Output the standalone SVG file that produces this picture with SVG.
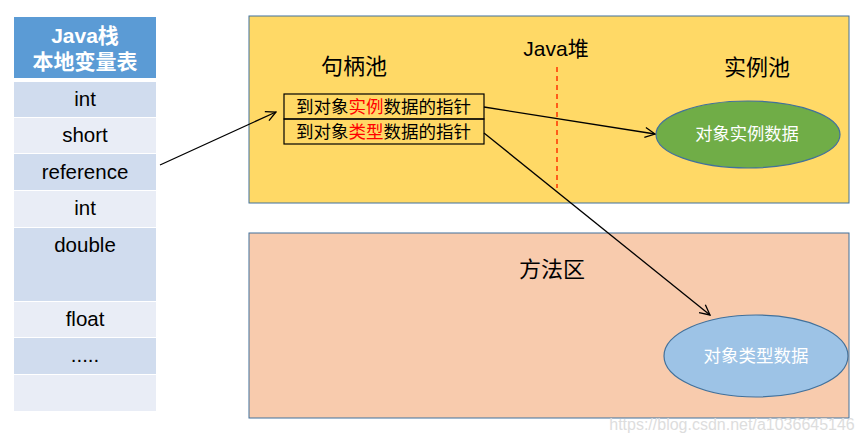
<svg xmlns="http://www.w3.org/2000/svg" width="864" height="441" viewBox="0 0 864 441">
<defs>
<style>
text{font-family:"Liberation Sans","Noto Sans CJK SC",sans-serif;}
.cell{font-size:20.5px;fill:#000;text-anchor:middle;}
.hdr{font-size:21px;fill:#fff;font-weight:bold;text-anchor:middle;}
.d{fill:#D0DCEE;}
.l{fill:#E9EDF6;}
.lbl{font-size:22px;fill:#000;text-anchor:middle;}
.ptr{font-size:17.5px;fill:#000;}
.red{fill:#FF0000;}
.conn{stroke:#000;stroke-width:1.3;fill:none;marker-end:url(#arr);}
</style>
<marker id="arr" viewBox="0 0 12 12" refX="11" refY="6" markerWidth="12" markerHeight="12" markerUnits="userSpaceOnUse" orient="auto">
<path d="M1,1 L11,6 L1,11" fill="none" stroke="#000" stroke-width="1.3"/>
</marker>
</defs>
<rect width="864" height="441" fill="#fff"/>
<g id="stack">
<rect x="14" y="17" width="142" height="61" fill="#5B9BD5"/>
<text class="hdr" x="85" y="43">Java栈</text>
<text class="hdr" x="85" y="69">本地变量表</text>
<rect class="d" x="14" y="82" width="142" height="35"/>
<rect class="l" x="14" y="118" width="142" height="35"/>
<rect class="d" x="14" y="154" width="142" height="36"/>
<rect class="l" x="14" y="191" width="142" height="36"/>
<rect class="d" x="14" y="228" width="142" height="73"/>
<rect class="l" x="14" y="302" width="142" height="35"/>
<rect class="d" x="14" y="338" width="142" height="36"/>
<rect class="l" x="14" y="375" width="142" height="36"/>
<text class="cell" x="85" y="106">int</text>
<text class="cell" x="85" y="142">short</text>
<text class="cell" x="85" y="179">reference</text>
<text class="cell" x="85" y="215">int</text>
<text class="cell" x="85" y="252">double</text>
<text class="cell" x="85" y="326">float</text>
<text class="cell" x="85" y="362">.....</text>
</g>
<g id="heap">
<rect x="249" y="16" width="600" height="187" fill="#FFD966" stroke="#41719C" stroke-width="1"/>
<text class="lbl" x="354" y="74">句柄池</text>
<text class="lbl" x="556" y="56" style="font-size:21px">Java堆</text>
<text class="lbl" x="757" y="75">实例池</text>
<line x1="557" y1="67" x2="557" y2="188" stroke="#FF3300" stroke-width="1.5" stroke-dasharray="5,4"/>
</g>
<g id="handle-table">
<rect x="284" y="94" width="200" height="25" fill="none" stroke="#000" stroke-width="1.2"/>
<rect x="284" y="119" width="200" height="25" fill="none" stroke="#000" stroke-width="1.2"/>
<text class="ptr" x="296" y="113">到对象<tspan class="red">实例</tspan>数据的指针</text>
<text class="ptr" x="296" y="138">到对象<tspan class="red">类型</tspan>数据的指针</text>
</g>
<g id="method-area">
<rect x="249" y="233" width="600" height="185" fill="#F8CBAD" stroke="#41719C" stroke-width="1"/>
<text class="lbl" x="552" y="277">方法区</text>
</g>
<g id="instance-data">
<ellipse cx="748" cy="134.5" rx="92" ry="33.5" fill="#70AD47" stroke="#41719C" stroke-width="1.2"/>
<text x="747" y="140" font-size="17.3" fill="#fff" text-anchor="middle">对象实例数据</text>
</g>
<g id="type-data">
<ellipse cx="756" cy="356" rx="92" ry="41" fill="#9DC3E6" stroke="#41719C" stroke-width="1.2"/>
<text x="756" y="362" font-size="17.5" fill="#fff" text-anchor="middle">对象类型数据</text>
</g>
<g id="connectors">
<line class="conn" x1="160" y1="165" x2="276" y2="112"/>
<line class="conn" x1="484" y1="107" x2="655" y2="134"/>
<line class="conn" x1="484" y1="133" x2="710" y2="315"/>
</g>
<text x="732" y="430" font-size="16" fill="#DDDDDD" text-anchor="middle">https://blog.csdn.net/a1036645146</text>
</svg>
